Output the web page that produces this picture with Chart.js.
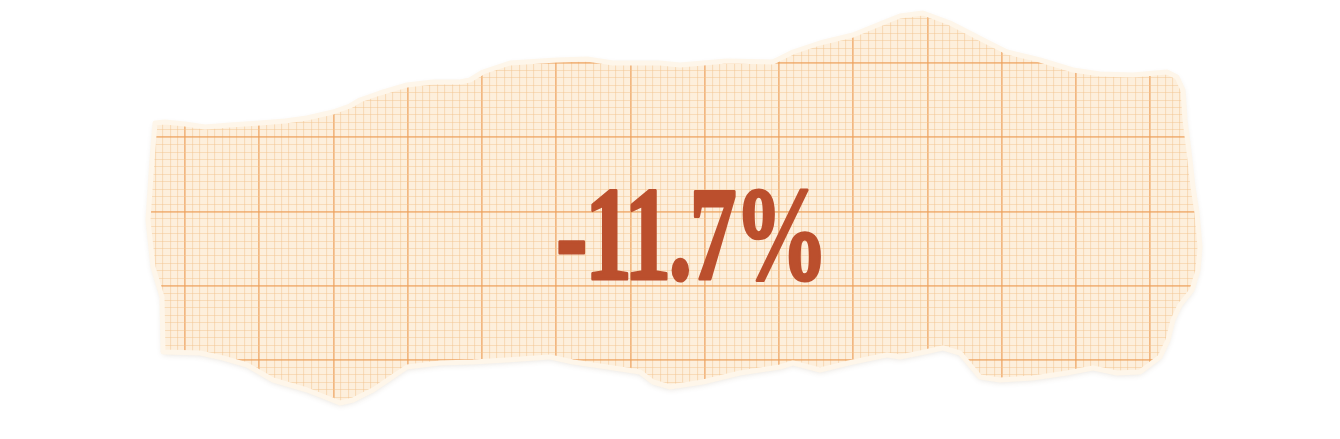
<!DOCTYPE html>
<html>
<head>
<meta charset="utf-8">
<script src="https://cdn.jsdelivr.net/npm/chart.js@4"></script>
<style>
  html, body { margin: 0; padding: 0; background: #ffffff; }
  #wrap { width: 1340px; height: 439px; position: relative; }
</style>
</head>
<body>
<div id="wrap"><canvas id="paperChart"></canvas></div>
<script>
// headline figure printed on the scrap
const percentChange = -11.7;

// torn scrap outline, clockwise from the top-left corner (image units)
const edgeX = [
  155, 165, 185, 205, 230, 260, 285, 307, 333, 350, 360, 380, 407, 433, 460, 470, 483, 510, 557, 587,
  613, 660, 680, 727, 773, 793, 820, 853, 880, 900, 923, 950, 987, 1007, 1040, 1073, 1100, 1133, 1167, 1177,
  1183, 1185, 1190, 1193, 1197, 1200, 1198, 1192, 1180, 1173, 1168, 1160,
  1140, 1117, 1093, 1067, 1033, 1000, 980, 960, 943, 920, 900, 887, 853, 820, 793, 780, 740, 703,
  670, 653, 640, 607, 573, 550, 507, 473, 440, 407, 373, 353, 340, 307, 273, 247, 223, 200, 163,
  162, 153, 148, 152
];
const edgeY = [
  123, 122, 124, 127, 125, 123, 121, 118, 112, 106, 100, 93, 85, 82, 82, 80, 72, 63, 60, 59,
  63, 63, 65, 61, 62, 52, 43, 35, 24, 16, 13, 23, 42, 52, 60, 70, 74, 75, 72, 77,
  90, 120, 160, 187, 213, 247, 270, 290, 305, 320, 340, 357,
  372, 373, 368, 373, 378, 380, 377, 353, 348, 353, 357, 355, 362, 370, 363, 367, 373, 382,
  387, 382, 372, 367, 362, 357, 360, 362, 363, 367, 390, 400, 403, 390, 380, 365, 358, 353, 352,
  297, 267, 220, 160
];

// graph paper rulings
const gridOriginX = 185;
const gridOriginY = 63;
const minorStep = 7.425;
const minorPerMajor = 10;

const paperColor = '#fdefdc';
const rimColor = '#fef6ea';
const minorColor = 'rgba(243, 196, 145, 0.48)';
const majorColor = 'rgba(236, 160, 90, 0.7)';
const inkColor = '#bb4f2d';

function rulingTicks(origin, min, max) {
  const ticks = [];
  const first = Math.ceil((min - origin) / minorStep);
  const last = Math.floor((max - origin) / minorStep);
  for (let k = first; k <= last; k++) {
    ticks.push({ value: origin + k * minorStep, heavy: k % minorPerMajor === 0 });
  }
  return ticks;
}

function tracePaper(chart) {
  const ctx = chart.ctx;
  const pts = chart.getDatasetMeta(0).data;
  ctx.beginPath();
  pts.forEach((p, i) => (i ? ctx.lineTo(p.x, p.y) : ctx.moveTo(p.x, p.y)));
  ctx.closePath();
}

const rulingGrid = {
  z: 1,
  drawTicks: false,
  tickLength: 0,
  color: c => (c.tick && c.tick.heavy ? majorColor : minorColor),
  lineWidth: c => (c.tick && c.tick.heavy ? 1.7 : 1.1)
};

const paperPlugin = {
  id: 'paper',
  beforeDatasetsDraw(chart) {
    const ctx = chart.ctx;
    ctx.save();
    ctx.shadowColor = 'rgba(110, 80, 40, 0.2)';
    ctx.shadowBlur = 6;
    ctx.shadowOffsetY = 2;
  },
  afterDatasetsDraw(chart) {
    const ctx = chart.ctx;
    ctx.restore();
    ctx.save();
    tracePaper(chart);
    ctx.clip();
  },
  afterDraw(chart) {
    const ctx = chart.ctx;
    ctx.restore();

    // pale torn fibre along the edge
    ctx.save();
    tracePaper(chart);
    ctx.lineJoin = 'round';
    ctx.strokeStyle = rimColor;
    ctx.lineWidth = 5;
    ctx.stroke();
    ctx.restore();

    // the figure
    const label = (percentChange > 0 ? '+' : '') + percentChange.toFixed(1) + '%';
    const cx = chart.scales.x.getPixelForValue(691);
    const baseY = chart.scales.y.getPixelForValue(279);
    ctx.save();
    ctx.font = 'bold 134px "Liberation Serif"';
    ctx.letterSpacing = '-4px';
    ctx.textAlign = 'left';
    ctx.textBaseline = 'alphabetic';
    const w = ctx.measureText(label).width;
    ctx.translate(cx, baseY);
    ctx.scale(270 / w, 1);
    ctx.fillStyle = inkColor;
    ctx.strokeStyle = inkColor;
    ctx.lineWidth = 3;
    ctx.lineJoin = 'round';
    ctx.fillText(label, -w / 2, 0);
    ctx.strokeText(label, -w / 2, 0);
    ctx.restore();
  }
};

new Chart(document.getElementById('paperChart'), {
  type: 'scatter',
  data: {
    datasets: [{
      label: 'paper',
      data: edgeX.map((x, i) => ({ x: x, y: edgeY[i] })),
      showLine: true,
      fill: 'shape',
      backgroundColor: paperColor,
      borderColor: 'rgba(0,0,0,0)',
      borderWidth: 0,
      pointRadius: 0,
      pointHoverRadius: 0,
      tension: 0
    }]
  },
  options: {
    responsive: true,
    maintainAspectRatio: false,
    animation: false,
    events: [],
    layout: { padding: 0 },
    plugins: { legend: { display: false }, tooltip: { enabled: false } },
    scales: {
      x: {
        type: 'linear',
        min: 0,
        max: 1340,
        afterBuildTicks: s => { s.ticks = rulingTicks(gridOriginX, 0, 1340); },
        ticks: { display: false, autoSkip: false },
        border: { display: false },
        grid: rulingGrid
      },
      y: {
        type: 'linear',
        reverse: true,
        min: 0,
        max: 439,
        afterBuildTicks: s => { s.ticks = rulingTicks(gridOriginY, 0, 439); },
        ticks: { display: false, autoSkip: false },
        border: { display: false },
        grid: rulingGrid
      }
    }
  },
  plugins: [paperPlugin]
});
</script>
</body>
</html>
